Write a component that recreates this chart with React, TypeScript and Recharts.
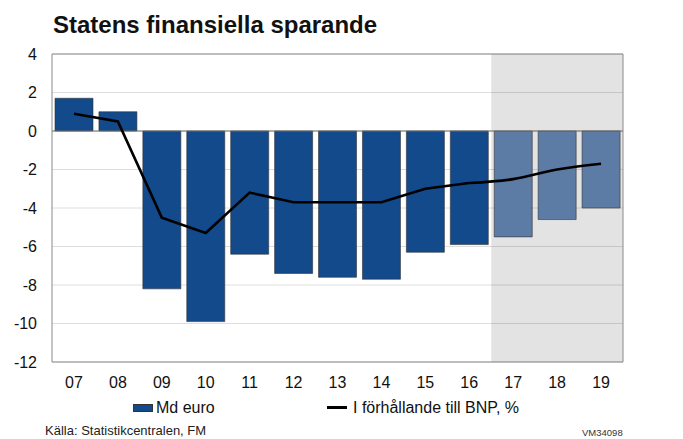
import {
  ComposedChart,
  Bar,
  Line,
  XAxis,
  YAxis,
  CartesianGrid,
  ReferenceArea,
  ReferenceLine,
  Legend,
  Cell,
} from "recharts";

const years = ["07", "08", "09", "10", "11", "12", "13", "14", "15", "16", "17", "18", "19"];
const mdEuro = [1.7, 1.0, -8.2, -9.9, -6.4, -7.4, -7.6, -7.7, -6.3, -5.9, -5.5, -4.6, -4.0];
// andel av BNP, utfall och prognos (prognosen ritas mjukare)
const bnpActual = [0.9, 0.5, -4.5, -5.3, -3.2, -3.7, -3.7, -3.7, -3.0, -2.7, null, null, null];
const bnpForecast = [null, null, null, null, null, null, null, null, null, -2.7, -2.5, -2.0, -1.7];
const yTicks = [4, 2, 0, -2, -4, -6, -8, -10, -12];
const forecastFrom = 10;

const data = years.map((year, i) => ({
  year,
  md: mdEuro[i],
  bnp: bnpActual[i],
  bnpPrognos: bnpForecast[i],
}));

const FONT = '"Liberation Sans", Arial, sans-serif';
const DARK = "#124a8c";
const LIGHT = "#5c7ba5";

function LegendContent() {
  return (
    <div style={{ position: "relative", width: 683, height: 24, fontFamily: FONT, fontSize: 16, color: "#111" }}>
      <div
        style={{
          position: "absolute",
          left: 133,
          top: 8,
          width: 20,
          height: 8,
          background: DARK,
          boxSizing: "border-box",
          border: "1px solid #333",
        }}
      />
      <div style={{ position: "absolute", left: 156, top: 4, lineHeight: "16px", whiteSpace: "nowrap" }}>
        Md euro
      </div>
      <div style={{ position: "absolute", left: 327, top: 10, width: 20, height: 3, background: "#000" }} />
      <div style={{ position: "absolute", left: 353, top: 4, lineHeight: "16px", whiteSpace: "nowrap" }}>
        I förhållande till BNP, %
      </div>
    </div>
  );
}

export default function App() {
  return (
    <div
      style={{
        position: "absolute",
        left: 0,
        top: 0,
        width: 683,
        height: 439,
        background: "#fff",
        fontFamily: FONT,
      }}
    >
      <div
        style={{
          position: "absolute",
          left: 53,
          top: 13,
          fontSize: 24,
          lineHeight: "24px",
          fontWeight: "bold",
          color: "#111",
          whiteSpace: "nowrap",
        }}
      >
        Statens finansiella sparande
      </div>

      <ComposedChart
        width={683}
        height={439}
        data={data}
        margin={{ top: 54, right: 0, bottom: 47, left: 0 }}
        barCategoryGap={3}
      >
        <CartesianGrid yAxisId="left" vertical={false} stroke="#dedede" strokeWidth={1} />
        <ReferenceArea
          yAxisId="left"
          x1="17"
          x2="19"
          y1={-12}
          y2={4}
          fill="#000"
          fillOpacity={0.11}
          stroke="none"
        />
        <XAxis
          dataKey="year"
          height={30}
          tickLine={false}
          tickSize={0}
          tickMargin={15}
          axisLine={{ stroke: "#8a8a8a" }}
          tick={{ fill: "#111", fontSize: 16, fontFamily: FONT }}
        />
        <YAxis
          yAxisId="left"
          width={52}
          domain={[-12, 4]}
          ticks={yTicks}
          interval={0}
          tickLine={false}
          tickSize={0}
          tickMargin={15}
          axisLine={{ stroke: "#8a8a8a" }}
          tick={{ fill: "#111", fontSize: 16, fontFamily: FONT }}
        />
        <YAxis
          yAxisId="right"
          orientation="right"
          width={60}
          domain={[-12, 4]}
          ticks={yTicks}
          interval={0}
          tickLine={false}
          tickSize={0}
          tickMargin={15}
          axisLine={{ stroke: "#8a8a8a" }}
          tickFormatter={(v: number) => (v < 0 ? `- ${-v}` : `${v}`)}
          tick={{ fill: "#111", fontSize: 16, fontFamily: FONT, textAnchor: "start" }}
        />
        <ReferenceLine yAxisId="left" y={4} stroke="#8a8a8a" />
        <Bar yAxisId="left" dataKey="md" stroke="#333" strokeWidth={0.6} isAnimationActive={false}>
          {data.map((d, i) => (
            <Cell key={d.year} fill={i >= forecastFrom ? LIGHT : DARK} />
          ))}
        </Bar>
        <ReferenceLine yAxisId="left" y={0} stroke="#6e6e6e" strokeWidth={1} />
        <Line
          yAxisId="left"
          type="linear"
          dataKey="bnp"
          stroke="#000"
          strokeWidth={2.6}
          dot={false}
          activeDot={false}
          connectNulls={false}
          isAnimationActive={false}
        />
        <Line
          yAxisId="left"
          type="monotone"
          dataKey="bnpPrognos"
          stroke="#000"
          strokeWidth={2.6}
          dot={false}
          activeDot={false}
          connectNulls={false}
          isAnimationActive={false}
        />
        <Legend
          layout="vertical"
          verticalAlign="middle"
          align="center"
          content={() => <LegendContent />}
          wrapperStyle={{ top: 396, left: 0, width: 683 }}
        />
      </ComposedChart>

      <div
        style={{
          position: "absolute",
          left: 45,
          top: 424,
          fontSize: 13,
          lineHeight: "14px",
          color: "#222",
          whiteSpace: "nowrap",
        }}
      >
        Källa: Statistikcentralen, FM
      </div>
      <div
        style={{
          position: "absolute",
          left: 582,
          top: 428,
          fontSize: 9.5,
          lineHeight: "10px",
          color: "#333",
          whiteSpace: "nowrap",
        }}
      >
        VM34098
      </div>
    </div>
  );
}
